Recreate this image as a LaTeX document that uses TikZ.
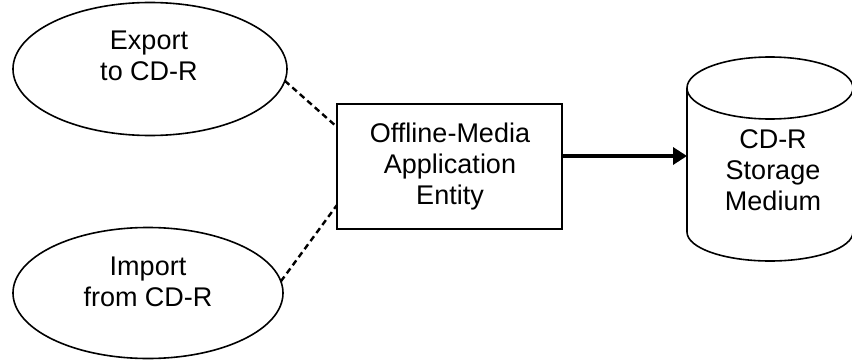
\documentclass[tikz,border=0pt]{standalone}
\usepackage{fontspec}
\setmainfont{Liberation Sans}
\usetikzlibrary{shapes.geometric,arrows.meta,calc}
\begin{document}
\begin{tikzpicture}[x=1bp,y=1bp,
  txt/.style={inner sep=0pt, align=center, anchor=north, font=\fontsize{27bp}{31bp}\selectfont},
  ovalshape/.style={ellipse, draw, line width=1.6bp, inner sep=0pt, outer sep=0pt},
  boxshape/.style={rectangle, draw, line width=1.6bp, inner sep=0pt, outer sep=0pt},
  dashline/.style={line width=2.4bp, dash pattern=on 6bp off 4bp},
  flow/.style={line width=3.4bp, -{Triangle[length=14bp,width=17bp]}}]
\useasboundingbox (0,0) rectangle (852,362);
% use-case ovals
\node[ovalshape, minimum width=274bp, minimum height=133bp] (e1) at (150,293) {};
\node[ovalshape, minimum width=270bp, minimum height=131bp] (e2) at (148,69) {};
\node[txt] (e1t) at (149,331.5) {Export\\to CD-R};
\node[txt] (e2t) at (148,105.5) {Import\\from CD-R};
% application entity
\node[boxshape, minimum width=225bp, minimum height=125bp] (box) at (449.5,195.5) {};
\node[txt] (boxt) at (450,239.5) {Offline-Media\\Application\\Entity};
% storage cylinder
\draw[line width=1.6bp] (687,274) -- (687,130)
  arc[start angle=180, end angle=360, x radius=83bp, y radius=29bp] -- (853,274);
\draw[line width=1.6bp] (770,274) ellipse [x radius=83bp, y radius=31bp];
\node[inner sep=0pt, outer sep=0pt, minimum width=166bp, minimum height=140bp] (cyl) at (770,206) {};
\node[txt] (cylt) at (773,232.5) {CD-R\\Storage\\Medium};
% connectors
\draw[dashline] (e1.-5) -- ($(box.north west)!0.184!(box.south west)$);
\draw[dashline] (e2.5) -- ($(box.north west)!0.808!(box.south west)$);
\draw[flow] (box.east |- cyl.west) -- (cyl.west);
\end{tikzpicture}
\end{document}
